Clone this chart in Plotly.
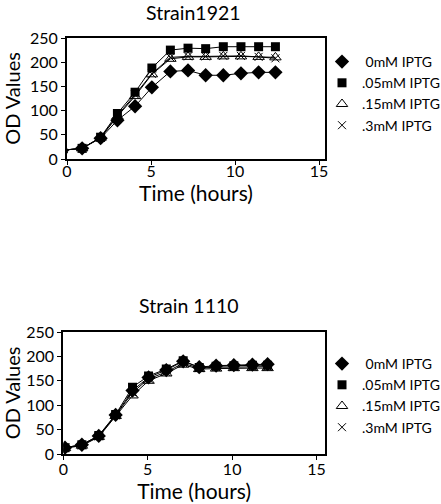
import plotly.graph_objects as go

# ---------------- data ----------------
series_names = [" 0mM IPTG", ".05mM IPTG", ".15mM IPTG", ".3mM IPTG"]

time_1921 = [-0.3, 0.9, 2.0, 3.0, 4.05, 5.05, 6.15, 7.2, 8.25, 9.3, 10.35, 11.4, 12.4]
od_1921_0 = [18, 22, 43, 80, 109, 148, 181, 183, 173, 173, 177, 179, 179]
od_1921_05 = [18, 22, 45, 94, 138, 188, 225, 229, 228, 232, 232, 232, 232]
od_1921_15 = [18, 22, 44, 88, 130, 175, 207, 211, 211, 212, 212, 211, 210]
od_1921_3 = [18, 22, 44, 90, 133, 176, 210, 212, 212, 213, 213, 211, 208]

time_1110 = [0.1, 1.1, 2.1, 3.1, 4.1, 5.05, 6.1, 7.1, 8.05, 9.05, 10.1, 11.2, 12.1]
od_1110_0 = [13, 19, 37, 80, 130, 157, 172, 190, 178, 181, 182, 183, 184]
od_1110_05 = [13, 19, 38, 81, 137, 160, 174, 191, 177, 180, 181, 182, 182]
od_1110_15 = [12, 17, 35, 78, 120, 150, 165, 183, 174, 175, 176, 176, 176]
od_1110_3 = [13, 18, 36, 79, 126, 154, 168, 186, 176, 178, 178, 179, 179]

x_ticks = [0, 5, 10, 15]
y_ticks = [0, 50, 100, 150, 200, 250]

FONT = "Lato"
W, H = 441, 504

markers = [
    dict(symbol="diamond", size=11, color="black"),
    dict(symbol="square", size=9, color="black"),
    dict(symbol="triangle-up-open", size=10, color="black", line=dict(color="black", width=1)),
    dict(symbol="x-thin-open", size=8, color="black", line=dict(color="black", width=1)),
]

fig = go.Figure()

panels = [
    ("x", "y", "legend", time_1921, [od_1921_0, od_1921_05, od_1921_15, od_1921_3]),
    ("x2", "y2", "legend2", time_1110, [od_1110_0, od_1110_05, od_1110_15, od_1110_3]),
]

for xa, ya, lg, t, ser in panels:
    for name, vals, mk in zip(series_names, ser, markers):
        fig.add_trace(go.Scatter(
            x=t, y=vals, mode="lines+markers", name=name,
            line=dict(color="black", width=1), marker=mk,
            xaxis=xa, yaxis=ya, showlegend=False,
        ))
    for name, mk in zip(series_names, markers):
        fig.add_trace(go.Scatter(
            x=[None], y=[None], mode="markers", name=name, marker=mk,
            xaxis=xa, yaxis=ya, legend=lg, showlegend=True,
        ))

axis_common = dict(
    showline=True, mirror=True, linecolor="black", linewidth=2,
    showgrid=False, zeroline=False, ticks="outside", ticklen=4,
    tickcolor="black", tickwidth=1, automargin=False,
    tickfont=dict(family=FONT, size=16, color="black"),
)


def px_x(a, b):
    return [a / W, b / W]


def px_y(top, bottom):
    return [1 - bottom / H, 1 - top / H]


xtitle = dict(text="Time (hours)", font=dict(family=FONT, size=21), standoff=2)
ytitle = dict(text="OD Values", font=dict(family=FONT, size=20), standoff=8)

fig.update_layout(
    width=W, height=H,
    margin=dict(l=0, r=0, t=0, b=0, autoexpand=False),
    paper_bgcolor="white", plot_bgcolor="white",
    font=dict(family=FONT, color="black"),
    xaxis=dict(domain=px_x(67, 325), range=[0, 15.35], tickvals=x_ticks, anchor="y",
               title=xtitle, ticklabelstandoff=-7, **axis_common),
    yaxis=dict(domain=px_y(38, 159), range=[0, 250], tickvals=y_ticks, anchor="x",
               title=ytitle, **axis_common),
    xaxis2=dict(domain=px_x(63.3, 325), range=[0, 15.5], tickvals=x_ticks, anchor="y2",
                title=xtitle, ticklabelstandoff=-4, **axis_common),
    yaxis2=dict(domain=px_y(332, 454), range=[0, 250], tickvals=y_ticks, anchor="x2",
                title=ytitle, **axis_common),
    legend=dict(x=322 / W, y=1 - 46 / H, xanchor="left", yanchor="top",
                font=dict(family=FONT, size=14), tracegroupgap=0,
                itemwidth=30, bgcolor="rgba(0,0,0,0)"),
    legend2=dict(x=322 / W, y=1 - 348 / H, xanchor="left", yanchor="top",
                 font=dict(family=FONT, size=14), tracegroupgap=0,
                 itemwidth=30, bgcolor="rgba(0,0,0,0)"),
    annotations=[
        dict(text="Strain1921", x=193 / W, y=1 - 12 / H, xref="paper", yref="paper",
             xanchor="center", yanchor="middle",
             showarrow=False, font=dict(family=FONT, size=19.5)),
        dict(text="Strain 1110", x=189 / W, y=1 - 305 / H, xref="paper", yref="paper",
             xanchor="center", yanchor="middle",
             showarrow=False, font=dict(family=FONT, size=19.5)),
    ],
)

fig.write_html("out.html", config={"displayModeBar": False},
               post_script="document.body.style.margin='0';")
